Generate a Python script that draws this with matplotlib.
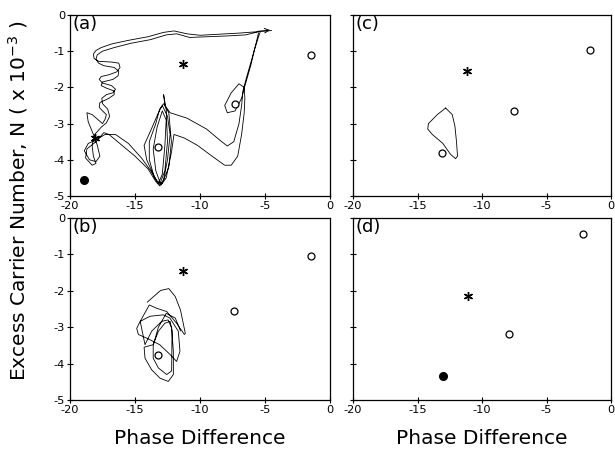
import matplotlib
matplotlib.use("Agg")
import matplotlib.pyplot as plt

# ---------------- data ----------------
# panel (a) markers
a_open_x = [-1.5, -7.3, -13.2]
a_open_y = [-1.1, -2.45, -3.65]
a_star_x = [-11.3, -18.1]
a_star_y = [-1.35, -3.4]
a_fill_x = [-18.9]
a_fill_y = [-4.55]

# panel (a) trajectory
traj_a_x = [-4.5, -5.5, -7.0, -8.5, -10.0, -11.0, -12.0, -12.8, -14.0, -15.5, -16.8, -17.6, -18.0, -18.2, -18.15,
            -17.8, -16.8, -16.25, -16.15, -16.4, -17.0, -17.6, -17.75, -17.5, -16.8, -16.5, -16.7, -17.2, -17.55,
            -17.5, -17.1, -16.95, -17.2, -17.6,
            -18.1, -18.3, -18.2, -18.0, -18.3, -18.8, -18.7, -18.0, -17.4, -17.0, -16.0, -15.0, -14.0, -13.4, -13.1,
            -12.8, -12.5, -12.3, -12.5, -12.9, -13.2, -13.8, -14.3, -14.1, -13.6, -13.2, -12.9, -12.7, -12.6, -12.9,
            -13.3, -13.6, -13.4, -13.0, -12.6, -12.2, -12.0,
            -11.2, -10.2, -9.0, -8.1, -7.6, -7.1, -6.8, -6.6, -6.55,
            -6.6, -7.0, -7.6, -8.1, -7.9, -7.3, -6.8, -6.5, -6.1, -5.8, -5.5, -5.35,
            -6.5, -8.0, -9.5, -10.8, -11.8, -12.6, -13.8, -15.3, -16.6, -17.5, -17.9, -18.0, -17.8,
            -17.4, -16.6, -16.25, -16.3, -16.7, -17.5, -17.6, -17.2, -16.6, -16.6, -17.0, -17.7, -17.75, -17.5,
            -17.2, -17.3, -17.5,
            -18.3, -18.7, -18.6, -18.2, -17.9, -17.7, -18.0, -18.5, -18.9, -18.6, -18.0, -17.3, -16.5, -15.5, -14.5,
            -13.8, -13.3,
            -12.9, -12.4, -12.2, -12.4, -12.8, -13.1, -13.4, -13.9, -13.9, -13.5, -13.1, -12.7, -12.5, -12.6, -12.8,
            -12.7, -12.3, -11.0, -9.5, -8.5, -7.9, -7.4, -7.0, -6.8, -6.7, -6.4, -6.0, -5.7, -5.5]
traj_a_y = [-0.43, -0.46, -0.5, -0.53, -0.56, -0.52, -0.44, -0.48, -0.6, -0.7, -0.8, -0.9, -0.98, -1.08, -1.2,
            -1.28, -1.3, -1.33, -1.45, -1.57, -1.65, -1.7, -1.78, -1.88, -1.95, -2.05, -2.15, -2.2, -2.3,
            -2.45, -2.6, -2.8, -2.98, -3.1,
            -3.3, -3.6, -3.9, -4.1, -4.15, -3.95, -3.7, -3.5, -3.25, -3.3, -3.6, -3.9, -4.25, -4.6, -4.72,
            -4.55, -4.0, -3.3, -2.8, -2.5, -2.7, -3.2, -3.6, -4.0, -4.4, -4.65, -4.4, -3.6, -2.9, -2.65,
            -3.1, -3.7, -4.3, -4.7, -4.5, -3.8, -3.3,
            -3.4, -3.6, -3.92, -4.15, -4.15, -3.9, -3.3, -2.7, -2.3,
            -2.0, -1.9, -2.15, -2.5, -2.7, -2.65, -2.3, -1.9, -1.4, -0.95, -0.6, -0.45,
            -0.55, -0.58, -0.6, -0.62, -0.52, -0.55, -0.68, -0.78, -0.9, -1.0, -1.1, -1.22, -1.33,
            -1.4, -1.45, -1.55, -1.68, -1.78, -1.85, -1.95, -2.02, -2.1, -2.2, -2.3, -2.42, -2.55, -2.65,
            -2.75, -2.88, -3.0,
            -2.75, -2.7, -2.95, -3.3, -3.6, -3.9, -4.05, -4.0, -3.75, -3.55, -3.45, -3.3, -3.3, -3.55, -3.95,
            -4.3, -4.6,
            -4.65, -4.2, -3.5, -2.7, -2.45, -2.6, -3.0, -3.5, -4.0, -4.5, -4.68, -4.3, -3.5, -2.6, -2.2,
            -2.5, -2.7, -2.85, -3.15, -3.45, -3.62, -3.5, -3.0, -2.5, -2.1, -1.7, -1.2, -0.8, -0.5]

# panel (b) markers
b_open_x = [-1.5, -7.4, -13.2]
b_open_y = [-1.05, -2.55, -3.75]
b_star_x = [-11.3]
b_star_y = [-1.45]

# panel (b) trajectory
traj_b_x = [-14.05, -13.03, -12.4, -11.9, -11.5, -11.13, -11.2, -11.8, -12.56, -13.33, -13.9,
            -14.6, -14.87, -14.74, -14.1, -13.1, -12.3, -11.8, -11.54, -11.67, -12.31, -12.82, -13.85, -14.6,
            -14.23, -13.72, -12.95, -12.45, -12.18, -12.05, -12.05, -12.44, -13.08, -13.72, -14.23, -14.3,
            -13.6, -13.2, -12.7, -12.3, -12.15, -12.18, -12.56, -13.2, -13.6, -13.6, -13.2, -12.6, -11.9, -11.5]
traj_b_y = [-2.31, -1.99, -1.94, -2.16, -2.53, -3.17, -3.2, -2.89, -2.57, -2.48, -2.39,
            -2.84, -3.03, -3.2, -3.3, -3.48, -3.75, -3.94, -3.66, -3.11, -2.75, -2.66, -2.7, -2.84,
            -3.48, -3.11, -2.84, -2.8, -3.02, -3.66, -4.3, -4.49, -4.4, -4.17, -3.85, -3.55,
            -3.48, -3.11, -2.89, -2.84, -3.1, -4.2, -4.3, -4.12, -3.85, -3.5, -3.0, -2.62, -2.75, -3.1]

# panel (c) markers
c_open_x = [-1.6, -7.5, -13.1]
c_open_y = [-0.98, -2.66, -3.81]
c_star_x = [-11.2]
c_star_y = [-1.56]

# panel (c) closed loop
traj_c_x = [-12.82, -12.31, -12.10, -11.97, -11.90, -12.05, -12.44, -13.03, -13.85, -14.21, -14.15, -13.46, -12.82]
traj_c_y = [-2.57, -2.75, -3.07, -3.53, -3.90, -3.97, -3.85, -3.55, -3.30, -3.15, -3.00, -2.75, -2.57]

# panel (d) markers
d_open_x = [-2.2, -7.9]
d_open_y = [-0.45, -3.2]
d_star_x = [-11.1]
d_star_y = [-2.15]
d_fill_x = [-13.0]
d_fill_y = [-4.35]

panel_labels = ["(a)", "(b)", "(c)", "(d)"]
x_ticks = [-20, -15, -10, -5, 0]
y_ticks = [-5, -4, -3, -2, -1, 0]
xlabel = "Phase Difference"
ylabel = "Excess Carrier Number, N ( x 10$^{-3}$ )"

# ---------------- figure ----------------
plt.rcParams['font.family'] = ['DejaVu Sans']
plt.rcParams['mathtext.default'] = 'regular'
plt.rcParams['axes.unicode_minus'] = False
fig = plt.figure(figsize=(6.15, 4.49), dpi=100)

W = 0.4228
WR = 0.4195
axA = fig.add_axes([0.1138, 0.5635, W, 0.4031])
axC = fig.add_axes([0.5740, 0.5635, WR, 0.4031])
axB = fig.add_axes([0.1138, 0.1091, W, 0.4054])
axD = fig.add_axes([0.5740, 0.1091, WR, 0.4054])

lw = 0.6
mk = dict(linestyle='none', color='black')

def open_c(ax, x, y):
    ax.plot(x, y, marker='o', markersize=5, markerfacecolor='white',
            markeredgecolor='black', markeredgewidth=0.9, **mk)

def star(ax, x, y):
    ax.plot(x, y, marker=(6, 2, 0), markersize=6.5, markeredgewidth=1.0, **mk)

def filled(ax, x, y):
    ax.plot(x, y, marker='o', markersize=5.5, **mk)

# (a)
axA.plot(traj_a_x, traj_a_y, color='black', lw=lw)
axA.annotate('', xy=(traj_a_x[0] + 0.1, traj_a_y[0] + 0.02), xytext=(traj_a_x[0] - 1.3, traj_a_y[0] - 0.03),
             arrowprops=dict(arrowstyle='->', lw=0.7, color='black', mutation_scale=8))
open_c(axA, a_open_x, a_open_y)
star(axA, a_star_x, a_star_y)
filled(axA, a_fill_x, a_fill_y)

# (b)
axB.plot(traj_b_x, traj_b_y, color='black', lw=lw)
open_c(axB, b_open_x, b_open_y)
star(axB, b_star_x, b_star_y)

# (c)
axC.plot(traj_c_x, traj_c_y, color='black', lw=lw)
open_c(axC, c_open_x, c_open_y)
star(axC, c_star_x, c_star_y)

# (d)
open_c(axD, d_open_x, d_open_y)
star(axD, d_star_x, d_star_y)
filled(axD, d_fill_x, d_fill_y)

for ax, lab in zip([axA, axB, axC, axD], panel_labels):
    ax.set_xlim(-20, 0)
    ax.set_ylim(-5, 0)
    ax.set_xticks(x_ticks)
    ax.set_yticks(y_ticks)
    ax.tick_params(direction='inout', length=4, width=0.8, labelsize=8.2, pad=1.5)
    for s in ax.spines.values():
        s.set_linewidth(0.9)
    ax.text(0.008, 0.998, lab, transform=ax.transAxes, ha='left', va='top', fontsize=13)

for ax in [axC, axD]:
    ax.set_yticklabels([])

for ax in [axB, axD]:
    ax.set_xlabel(xlabel, fontsize=14.5, labelpad=10)

fig.text(0.03, 0.552, ylabel, rotation=90, ha='center', va='center', fontsize=14.5)

fig.savefig('out.png', dpi=100)
